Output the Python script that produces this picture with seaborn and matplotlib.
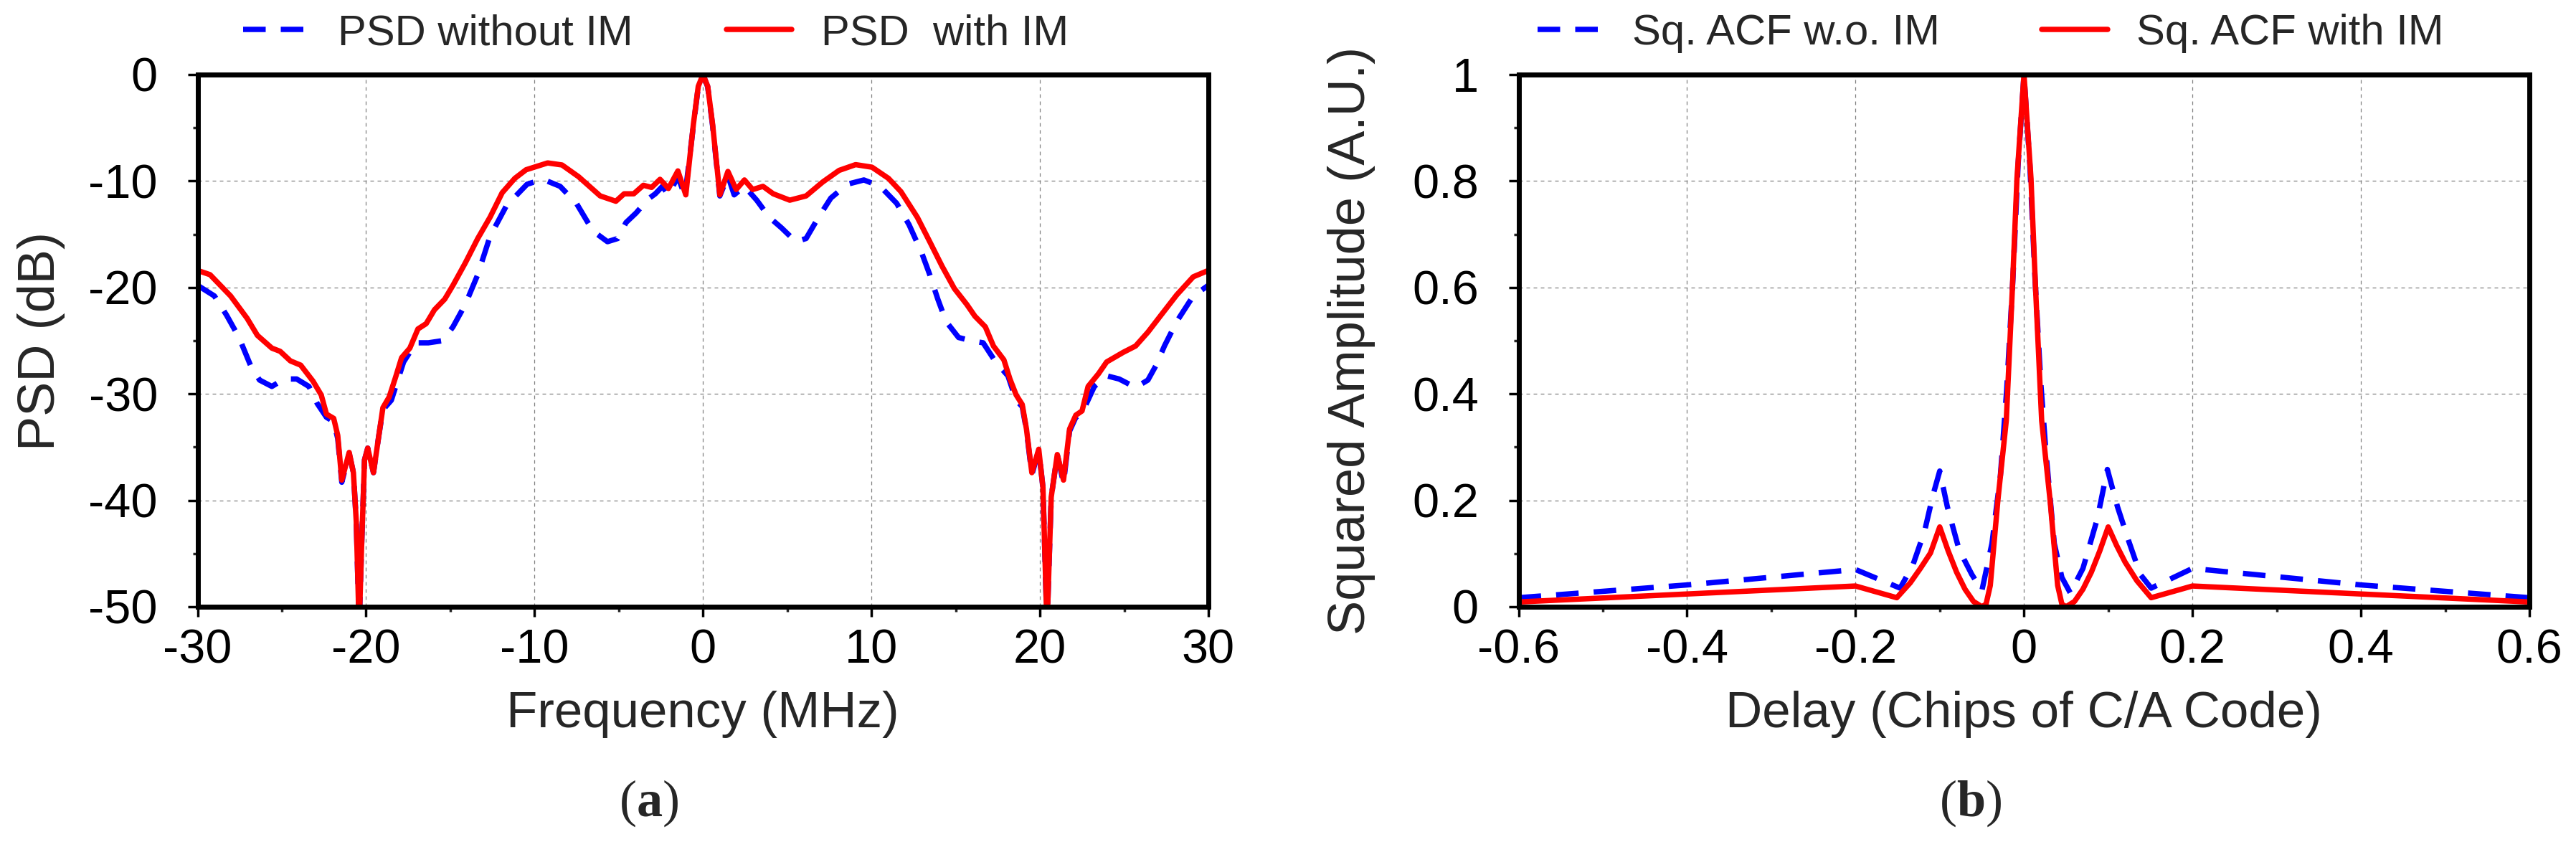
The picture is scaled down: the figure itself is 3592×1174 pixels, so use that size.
import numpy as np
import matplotlib
matplotlib.use("Agg")
import matplotlib.pyplot as plt
import seaborn as sns
from matplotlib.ticker import MultipleLocator

# ---- data ----
# (a) PSD, frequency in MHz, level in dB
psd_im_freq = [-30.0, -29.26, -28.04, -27.06, -26.45, -25.59, -25.1, -24.49, -23.88, -23.15,
               -22.66, -22.35, -21.92, -21.68, -21.44, -21.0, -20.75, -20.58, -20.41, -20.26,
               -20.09, -19.9, -19.56, -19.24, -19.0, -18.63, -18.26, -17.89, -17.4, -16.92,
               -16.43, -15.94, -15.33, -14.84, -14.11, -13.37, -12.64, -11.92, -11.17, -10.5,
               -9.22, -8.37, -7.38, -6.1, -5.17, -4.68, -4.11, -3.54, -3.05, -2.55,
               -2.05, -1.49, -1.02, -0.57, -0.28, 0.0, 0.28, 0.57, 1.0, 1.48,
               1.97, 2.46, 2.95, 3.56, 4.17, 5.15, 6.12, 7.1, 8.08, 9.06,
               10.03, 11.01, 11.75, 12.72, 13.46, 14.19, 14.92, 15.66, 16.14, 16.76,
               17.24, 17.86, 18.22, 18.59, 18.95, 19.2, 19.52, 19.93, 20.18, 20.42,
               20.67, 21.03, 21.4, 21.76, 22.13, 22.5, 22.86, 23.48, 23.96, 24.94,
               25.68, 26.41, 27.14, 28.12, 29.1, 30.0]
psd_im_db = [-18.4, -18.8, -20.8, -22.9, -24.5, -25.7, -26.0, -26.9, -27.3, -28.8,
             -30.1, -31.9, -32.3, -33.9, -38.1, -35.5, -37.4, -42.0, -52.0, -44.1,
             -36.2, -35.1, -37.4, -33.9, -31.3, -30.3, -28.5, -26.6, -25.7, -23.9,
             -23.4, -22.1, -21.1, -19.8, -17.7, -15.4, -13.4, -11.1, -9.75, -8.94,
             -8.3, -8.49, -9.6, -11.4, -11.9, -11.2, -11.2, -10.4, -10.6, -9.84,
             -10.7, -9.05, -11.3, -4.67, -1.1, 0.0, -1.1, -4.67, -11.3, -9.1,
             -10.8, -9.9, -10.8, -10.5, -11.2, -11.8, -11.4, -10.1, -9.0, -8.46,
             -8.7, -9.75, -11.0, -13.4, -15.7, -18.0, -20.1, -21.6, -22.7, -23.7,
             -25.5, -26.8, -28.6, -30.1, -31.0, -33.3, -37.4, -35.2, -38.8, -52.0,
             -39.7, -35.7, -38.1, -33.3, -32.0, -31.6, -29.3, -28.1, -27.0, -26.1,
             -25.5, -24.2, -22.7, -20.7, -19.0, -18.4]

psd_free_freq = [-30.0, -29.0, -28.28, -27.54, -26.81, -26.32, -25.59, -24.86, -24.12, -23.39,
                 -22.9, -22.35, -21.92, -21.68, -21.44, -21.0, -20.75, -20.58, -20.41, -20.26,
                 -20.09, -19.9, -19.56, -19.24, -19.0, -18.5, -17.77, -17.04, -16.3, -15.45,
                 -14.84, -14.11, -13.37, -12.64, -11.66, -10.44, -9.5, -8.48, -7.51, -6.53,
                 -5.67, -5.06, -4.57, -3.97, -3.26, -2.83, -2.41, -2.05, -1.49, -1.07,
                 -0.57, -0.28, 0.0, 0.28, 0.57, 1.0, 1.48, 1.85, 2.46, 3.19,
                 3.93, 4.66, 5.51, 6.12, 6.86, 7.59, 8.57, 9.55, 10.52, 11.5,
                 12.23, 12.97, 13.46, 13.94, 14.43, 15.17, 15.9, 16.63, 17.37, 18.1,
                 18.59, 18.95, 19.2, 19.52, 19.93, 20.18, 20.42, 20.67, 21.03, 21.4,
                 21.76, 22.13, 22.5, 23.23, 23.96, 24.7, 25.68, 26.41, 26.9, 27.39,
                 28.12, 29.1, 30.0]
psd_free_db = [-19.8, -20.8, -22.6, -24.7, -27.5, -28.7, -29.3, -28.6, -28.6, -29.3,
               -30.9, -32.2, -32.6, -34.2, -38.3, -35.6, -37.4, -42.0, -52.0, -44.1,
               -36.2, -35.1, -37.4, -33.9, -31.5, -30.6, -27.0, -25.2, -25.2, -25.0,
               -23.7, -21.6, -18.8, -15.2, -12.3, -10.3, -9.84, -10.5, -12.1, -14.7,
               -15.7, -15.4, -13.9, -13.0, -11.7, -11.2, -10.5, -11.3, -9.6, -11.4,
               -4.8, -1.15, 0.0, -1.15, -4.8, -11.4, -9.5, -11.3, -10.5, -11.8,
               -13.4, -14.4, -15.7, -15.4, -13.4, -11.6, -10.3, -9.9, -10.5, -12.1,
               -14.1, -16.7, -18.8, -21.1, -23.2, -24.7, -25.0, -25.2, -27.0, -28.3,
               -30.6, -31.2, -33.4, -37.6, -35.3, -38.8, -52.0, -39.7, -35.7, -38.4,
               -33.5, -32.2, -31.8, -29.3, -28.3, -28.6, -29.4, -28.7, -27.3, -25.5,
               -23.2, -20.8, -19.8]

# (b) squared ACF, delay in chips
acf_im_delay = [-0.6, -0.2, -0.151, -0.135, -0.123, -0.111, -0.1, -0.09, -0.08, -0.07,
                -0.06, -0.05, -0.045, -0.04, -0.031, -0.021, -0.0137, -0.0083, 0.0, 0.0083,
                0.0137, 0.021, 0.031, 0.04, 0.045, 0.05, 0.06, 0.07, 0.08, 0.09,
                0.1, 0.11, 0.12, 0.134, 0.151, 0.2, 0.6]
acf_im_amp = [0.009, 0.039, 0.017, 0.045, 0.072, 0.101, 0.15, 0.105, 0.065, 0.033,
              0.01, 0.0, 0.005, 0.04, 0.2, 0.35, 0.6, 0.805, 1.0, 0.805,
              0.6, 0.35, 0.2, 0.04, 0.005, 0.0, 0.01, 0.033, 0.065, 0.105,
              0.15, 0.115, 0.084, 0.049, 0.017, 0.039, 0.009]

acf_free_delay = [-0.6, -0.4, -0.2, -0.147, -0.132, -0.118, -0.108, -0.1, -0.091, -0.077,
                  -0.062, -0.05, -0.038, -0.028, -0.0205, -0.013, -0.007, 0.0, 0.007, 0.013,
                  0.02, 0.026, 0.036, 0.045, 0.055, 0.07, 0.087, 0.099, 0.111, 0.124,
                  0.138, 0.151, 0.2, 0.4, 0.6]
acf_free_amp = [0.017, 0.041, 0.07, 0.035, 0.078, 0.142, 0.21, 0.255, 0.188, 0.107,
                0.061, 0.03, 0.119, 0.246, 0.408, 0.62, 0.83, 1.0, 0.83, 0.62,
                0.42, 0.292, 0.119, 0.055, 0.026, 0.072, 0.165, 0.258, 0.188, 0.125,
                0.061, 0.035, 0.072, 0.041, 0.017]

psd_xticks = [-30, -20, -10, 0, 10, 20, 30]
psd_xlabels = ["-30", "-20", "-10", "0", "10", "20", "30"]
psd_yticks = [-50, -40, -30, -20, -10, 0]
psd_ylabels = ["-50", "-40", "-30", "-20", "-10", "0"]
acf_xticks = [-0.6, -0.4, -0.2, 0, 0.2, 0.4, 0.6]
acf_xlabels = ["-0.6", "-0.4", "-0.2", "0", "0.2", "0.4", "0.6"]
acf_yticks = [0, 0.2, 0.4, 0.6, 0.8, 1]
acf_ylabels = ["0", "0.2", "0.4", "0.6", "0.8", "1"]

# ---- style ----
sns.set_style("white")
plt.rcParams['font.family'] = ['Liberation Sans', 'DejaVu Sans']
plt.rcParams['axes.unicode_minus'] = False
plt.rcParams['mathtext.fontset'] = 'custom'
plt.rcParams['mathtext.rm'] = 'Liberation Serif'
plt.rcParams['mathtext.bf'] = 'Liberation Serif:bold'

W, H = 3592, 1174
fig = plt.figure(figsize=(W / 100, H / 100), dpi=100)

ax1 = fig.add_axes([275.5 / W, 1 - 846 / H, 1409.5 / W, 742 / H])
ax2 = fig.add_axes([2117.5 / W, 1 - 846 / H, 1409.5 / W, 742 / H])

blue_dash = (0, (4.2, 2.8))
lw = 5.4

sns.lineplot(x=psd_free_freq, y=psd_free_db, ax=ax1, color='#0000FF', linewidth=lw,
             linestyle=blue_dash, label='PSD without IM')
sns.lineplot(x=psd_im_freq, y=psd_im_db, ax=ax1, color='#FF0000', linewidth=lw,
             label='PSD  with IM')

sns.lineplot(x=acf_free_delay, y=acf_free_amp, ax=ax2, color='#0000FF', linewidth=lw,
             linestyle=blue_dash, label='Sq. ACF w.o. IM')
sns.lineplot(x=acf_im_delay, y=acf_im_amp, ax=ax2, color='#FF0000', linewidth=lw,
             label='Sq. ACF with IM')

ax1.set_xlim(-30, 30)
ax1.set_ylim(-50, 0)
ax1.set_xticks(psd_xticks, psd_xlabels)
ax1.set_yticks(psd_yticks, psd_ylabels)
ax1.xaxis.set_minor_locator(MultipleLocator(5))
ax1.yaxis.set_minor_locator(MultipleLocator(5))

ax2.set_xlim(-0.6, 0.6)
ax2.set_ylim(0, 1)
ax2.set_xticks(acf_xticks, acf_xlabels)
ax2.set_yticks(acf_yticks, acf_ylabels)
ax2.xaxis.set_minor_locator(MultipleLocator(0.1))
ax2.yaxis.set_minor_locator(MultipleLocator(0.1))

ax1.set_xlabel('Frequency (MHz)', fontsize=51)
ax1.set_ylabel('PSD (dB)', fontsize=52)
ax2.set_xlabel('Delay (Chips of C/A Code)', fontsize=51)
ax2.set_ylabel('Squared Amplitude (A.U.)', fontsize=52)

ax1.yaxis.set_label_coords(-0.131, 0.5)
ax2.yaxis.set_label_coords(-0.1415, 0.5)
ax1.xaxis.set_label_coords(0.5, -0.158)
ax2.xaxis.set_label_coords(0.5, -0.158)

for ax in (ax1, ax2):
    for sp in ax.spines.values():
        sp.set_visible(True)
        sp.set_linewidth(5)
        sp.set_color('black')
    ax.grid(True, which='major', color='#808080', linewidth=0.9, linestyle=(0, (4, 4)))
    ax.tick_params(which='major', direction='out', length=10, width=2.5, labelsize=48,
                   colors='black', bottom=True, left=True, top=False, right=False)
    ax.tick_params(which='minor', direction='out', length=5, width=2.5,
                   bottom=True, left=True, top=False, right=False)
    ax.tick_params(axis='x', which='major', pad=12)
    ax.tick_params(axis='y', which='major', pad=30)
    ax.set_axisbelow(True)

ax1.legend(loc='center left', bbox_to_anchor=(0.045, 1.077), ncol=2, frameon=False,
           fontsize=43, handlelength=1.53, handletextpad=0.68, columnspacing=2.18,
           borderpad=0, borderaxespad=0)
ax2.legend(loc='center left', bbox_to_anchor=(0.019, 1.077), ncol=2, frameon=False,
           fontsize=43, handlelength=1.53, handletextpad=0.68, columnspacing=2.38,
           borderpad=0, borderaxespad=0)

fig.text(905 / W, 1 - 1120 / H, r'($\mathbf{a}$)', fontsize=52, ha='center', va='center',
         family='Liberation Serif')
fig.text(2748 / W, 1 - 1120 / H, r'($\mathbf{b}$)', fontsize=52, ha='center', va='center',
         family='Liberation Serif')

fig.savefig('out.png', dpi=100)
